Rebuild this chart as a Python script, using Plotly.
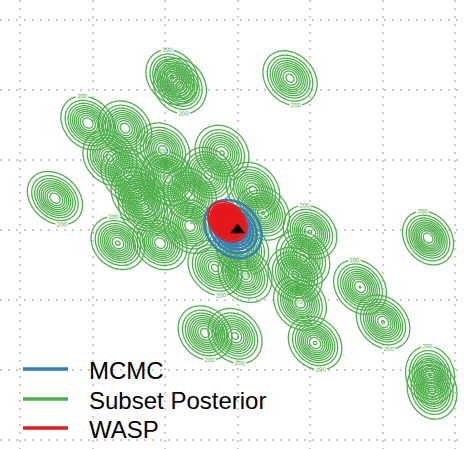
import numpy as np
import plotly.graph_objects as go

# Subset posteriors: centre, spread and correlation of each subset's posterior
sub_mx = [-0.0452, -0.0397, 0.0362, -0.1032, -0.0776, -0.0880, -0.0514, -0.0107,
          -0.0204, -0.1259, -0.0687, -0.0638, -0.0328, 0.0107, -0.0825, -0.0535,
          -0.0328, -0.0155, 0.0052, 0.0176, 0.0500, 0.0452, 0.0397, 0.0431,
          0.0535, 0.0845, 0.1004, 0.1314, -0.0224, -0.0017, 0.1328, 0.1342, 0.0031,
          -0.0756, -0.0480]
sub_my = [0.1093, 0.1028, 0.1085, 0.0764, 0.0728, 0.0514, 0.0571, 0.0550,
          0.0393, 0.0228, 0.0250, 0.0157, 0.0250, 0.0286, -0.0093, -0.0093,
          0.0029, -0.0271, -0.0321, 0.0121, -0.0014, -0.0200, -0.0321, -0.0521,
          -0.0807, -0.0407, -0.0657, -0.0057, -0.0735, -0.0757, -0.1035, -0.1142, -0.0129,
          0.0393, 0.0371]
sub_sx = [0.0082, 0.0084, 0.0086, 0.0085, 0.0084, 0.0086, 0.0085, 0.0086,
          0.0084, 0.0087, 0.0085, 0.0084, 0.0083, 0.0085, 0.0084, 0.0085,
          0.0083, 0.0086, 0.0085, 0.0083, 0.0084, 0.0085, 0.0086, 0.0083,
          0.0084, 0.0083, 0.0084, 0.0079, 0.0085, 0.0086, 0.0077, 0.0079, 0.0084,
          0.0085, 0.0084]
sub_sy = [0.0089, 0.0091, 0.0090, 0.0088, 0.0089, 0.0091, 0.0089, 0.0092,
          0.0091, 0.0087, 0.0091, 0.0090, 0.0089, 0.0091, 0.0086, 0.0087,
          0.0089, 0.0091, 0.0090, 0.0088, 0.0087, 0.0092, 0.0091, 0.0089,
          0.0087, 0.0089, 0.0088, 0.0086, 0.0089, 0.0091, 0.0094, 0.0096, 0.0089,
          0.0090, 0.0089]
sub_rho = [-0.18, -0.15, -0.22, -0.22, -0.18, -0.20, -0.18, -0.15,
           -0.18, -0.26, -0.20, -0.18, -0.18, -0.20, -0.18, -0.20,
           -0.18, -0.22, -0.20, -0.18, -0.20, -0.22, -0.20, -0.18,
           -0.20, -0.22, -0.24, -0.22, -0.18, -0.20, -0.10, -0.12, -0.18,
           -0.20, -0.18]

# Full-data MCMC posterior and the WASP combination
mcmc_m = (-0.0031, 0.0007)
mcmc_s = (0.0095, 0.0100, -0.22)
wasp_m = (-0.0070, 0.0060)
wasp_s = (0.0051, 0.0055, -0.28)

# True parameter value
truth = (0.0, 0.0)

legend_labels = ["MCMC", "Subset Posterior", "WASP"]

GREEN = "#4daf4a"
BLUE = "#377eb8"
RED = "#e41a1c"
STEP = 200


def gauss_grid(mx, my, sx, sy, rho, n=90, span=4.0):
    xs = np.linspace(mx - span * sx, mx + span * sx, n)
    ys = np.linspace(my - span * sy, my + span * sy, n)
    X, Y = np.meshgrid(xs, ys)
    zx = (X - mx) / sx
    zy = (Y - my) / sy
    q = (zx ** 2 - 2 * rho * zx * zy + zy ** 2) / (1 - rho ** 2)
    z = np.exp(-q / 2) / (2 * np.pi * sx * sy * np.sqrt(1 - rho ** 2))
    return xs, ys, z


def contour(xs, ys, z, color, width, start, end, labels=False):
    return go.Contour(
        x=xs, y=ys, z=z,
        autocontour=False,
        contours=dict(start=start, end=end, size=STEP, coloring="lines",
                      showlabels=labels,
                      labelfont=dict(size=6, color=color, family="Liberation Sans")),
        colorscale=[[0, color], [1, color]],
        line=dict(width=width),
        showscale=False, showlegend=False, hoverinfo="skip",
    )


fig = go.Figure()

for mx, my, sx, sy, rho in zip(sub_mx, sub_my, sub_sx, sub_sy, sub_rho):
    xs, ys, z = gauss_grid(mx, my, sx, sy, rho)
    top = float(z.max())
    fig.add_trace(contour(xs, ys, z, GREEN, 1.3, 2 * STEP, top))
    fig.add_trace(contour(xs, ys, z, GREEN, 1.3, STEP, STEP + 1, labels=True))

xs, ys, z = gauss_grid(*mcmc_m, *mcmc_s)
fig.add_trace(contour(xs, ys, z, BLUE, 2.6, STEP, float(z.max())))

xs, ys, z = gauss_grid(*wasp_m, *wasp_s)
fig.add_trace(contour(xs, ys, z, RED, 1.9, STEP, float(z.max())))

fig.add_trace(go.Scatter(
    x=[truth[0]], y=[truth[1]], mode="markers",
    marker=dict(symbol="triangle-up", size=13, color="black"),
    showlegend=False, hoverinfo="skip",
))

# Legend drawn as line keys and text
W, H = 464, 449
key_y = [369, 399, 428]
for label, color, py in zip(legend_labels, [BLUE, GREEN, RED], key_y):
    fig.add_shape(type="line", xref="paper", yref="paper",
                  x0=23 / W, x1=68 / W, y0=1 - py / H, y1=1 - py / H,
                  line=dict(color=color, width=3.5))
    fig.add_annotation(xref="paper", yref="paper", x=87 / W, y=1 - (py + 1) / H,
                       xanchor="left", yanchor="middle", showarrow=False,
                       text=label,
                       font=dict(family="Liberation Sans", size=24, color="black"))

grid = [-0.15, -0.10, -0.05, 0.0, 0.05, 0.10, 0.15]
axis_style = dict(tickvals=grid, showticklabels=False, ticks="", zeroline=False,
                  showline=False, showgrid=True, gridcolor="#cccccc", gridwidth=2,
                  griddash="2px,6px")

fig.update_xaxes(range=[-0.1638, 0.1562], **axis_style)
fig.update_yaxes(range=[-0.1564, 0.1643], **axis_style)
fig.update_layout(width=W, height=H, margin=dict(l=0, r=0, t=0, b=0),
                  paper_bgcolor="white", plot_bgcolor="white")

fig.write_html("out.html")
